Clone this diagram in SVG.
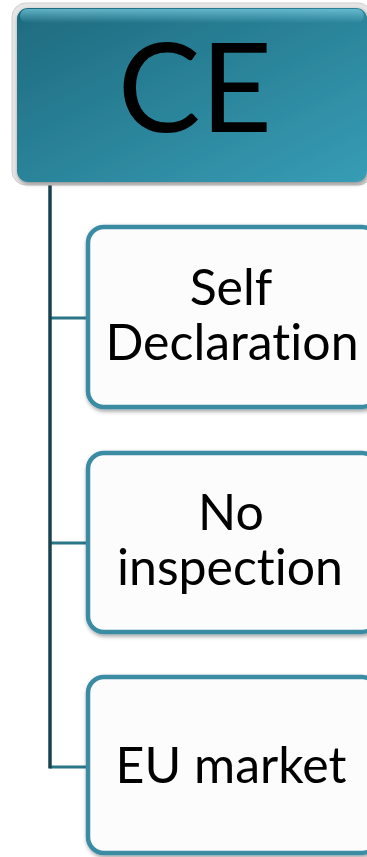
<svg xmlns="http://www.w3.org/2000/svg" width="367" height="857" viewBox="0 0 367 857">
<defs>
<linearGradient id="topg" x1="0" y1="0" x2="1" y2="1">
<stop offset="0" stop-color="#1e6a7e"/>
<stop offset="1" stop-color="#379db5"/>
</linearGradient>
<linearGradient id="hl" x1="0" y1="0" x2="0" y2="1">
<stop offset="0" stop-color="#7fd0e4" stop-opacity="0.7"/>
<stop offset="1" stop-color="#7fd0e4" stop-opacity="0"/>
</linearGradient>
<filter id="sh" x="-10%" y="-10%" width="120%" height="120%">
<feGaussianBlur in="SourceAlpha" stdDeviation="2"/>
<feOffset dx="1" dy="2"/>
<feComponentTransfer><feFuncA type="linear" slope="0.4"/></feComponentTransfer>
<feMerge><feMergeNode/><feMergeNode in="SourceGraphic"/></feMerge>
</filter>
</defs>
<style>
.child{fill:#fcfcfc;stroke:#3a8ca3;stroke-width:4.5}
.lbl{font-family:"Gill Sans","Lato","Open Sans",sans-serif;fill:#000;text-anchor:middle;font-variant-ligatures:none}
.conn{fill:none;stroke:#2a7488;stroke-width:3}
.trunk{fill:none;stroke:#17434f;stroke-width:3.5}
</style>
<g id="connectors">
<path class="conn" d="M50,318 H88"/>
<path class="conn" d="M50,543 H88"/>
<path class="conn" d="M50,767 H88"/>
<path class="trunk" d="M50,183 V768.5"/>
</g>
<g id="node-ce">
<rect x="12" y="3" width="360" height="182" rx="14" fill="#e6e6e6" stroke="#cfcfcf" stroke-width="1"/>
<rect x="17" y="8" width="350" height="174" rx="11" fill="url(#topg)" filter="url(#sh)"/>
<rect x="20" y="9" width="344" height="14" rx="7" fill="url(#hl)"/>
<text class="lbl" x="195" y="132" font-size="124">CE</text>
</g>
<g id="node-self">
<rect class="child" x="88" y="227" width="290" height="180" rx="16" filter="url(#sh)"/>
<text class="lbl" x="231" y="305" font-size="50">Self</text>
<text class="lbl" x="232" y="360" font-size="50">Declaration</text>
</g>
<g id="node-inspection">
<rect class="child" x="88" y="453" width="290" height="179" rx="16" filter="url(#sh)"/>
<text class="lbl" x="231" y="530" font-size="50">No</text>
<text class="lbl" x="230" y="585" font-size="50">inspection</text>
</g>
<g id="node-eu">
<rect class="child" x="88" y="677" width="290" height="176" rx="16" filter="url(#sh)"/>
<text class="lbl" x="231" y="783" font-size="50">EU market</text>
</g>
</svg>
